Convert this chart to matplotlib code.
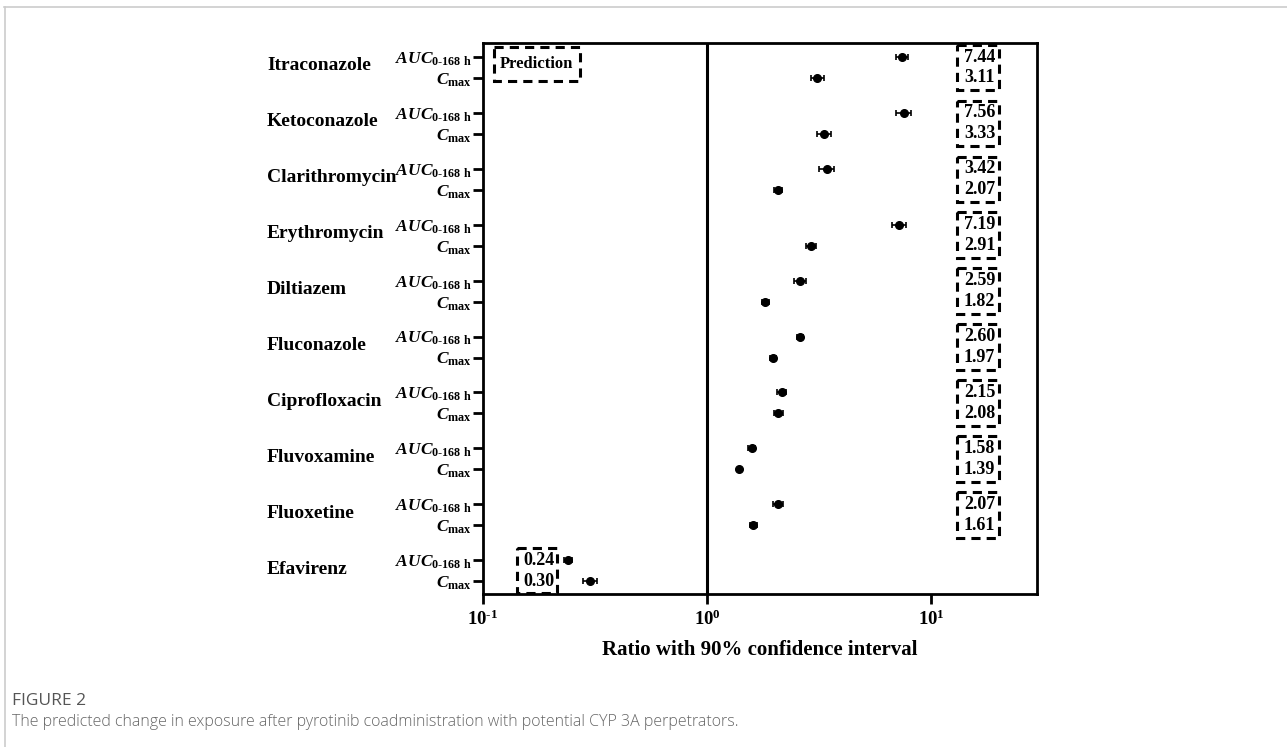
import numpy as np
import matplotlib
matplotlib.use('Agg')
import matplotlib.pyplot as plt
from matplotlib.patches import Rectangle
from matplotlib.lines import Line2D
import matplotlib.transforms as mtransforms

plt.rcParams['font.family'] = ['Liberation Serif', 'DejaVu Serif']
plt.rcParams['mathtext.fontset'] = 'custom'
plt.rcParams['mathtext.rm'] = 'Liberation Serif:bold'
plt.rcParams['mathtext.it'] = 'Liberation Serif:italic:bold'
plt.rcParams['mathtext.bf'] = 'Liberation Serif:bold'

# data
drugs = ['Itraconazole', 'Ketoconazole', 'Clarithromycin', 'Erythromycin', 'Diltiazem',
         'Fluconazole', 'Ciprofloxacin', 'Fluvoxamine', 'Fluoxetine', 'Efavirenz']
auc = [7.44, 7.56, 3.42, 7.19, 2.59, 2.60, 2.15, 1.58, 2.07, 0.24]
auc_lo = [7.00, 7.00, 3.16, 6.69, 2.44, 2.52, 2.05, 1.52, 1.96, 0.231]
auc_hi = [7.92, 8.16, 3.70, 7.73, 2.75, 2.68, 2.25, 1.64, 2.19, 0.250]
cmax = [3.11, 3.33, 2.07, 2.91, 1.82, 1.97, 2.08, 1.39, 1.61, 0.30]
cmax_lo = [2.92, 3.11, 1.98, 2.76, 1.75, 1.90, 1.98, 1.38, 1.55, 0.279]
cmax_hi = [3.31, 3.57, 2.16, 3.07, 1.89, 2.04, 2.19, 1.41, 1.67, 0.323]
auc_txt = ['7.44', '7.56', '3.42', '7.19', '2.59', '2.60', '2.15', '1.58', '2.07', '0.24']
cmax_txt = ['3.11', '3.33', '2.07', '2.91', '1.82', '1.97', '2.08', '1.39', '1.61', '0.30']

n = len(drugs)
gap = 0.375  # AUC row -> Cmax row
y_auc = np.arange(n)
y_cmax = y_auc + gap

fig = plt.figure(figsize=(12.87, 7.47), dpi=100)
ax = fig.add_axes([0.3753, 0.2048, 0.4305, 0.7376])

auc = np.array(auc); cmax = np.array(cmax)
ax.errorbar(auc, y_auc, xerr=[auc - np.array(auc_lo), np.array(auc_hi) - auc],
            fmt='o', color='black', ms=5.5, elinewidth=1.2, capsize=2.5, capthick=1.2)
ax.errorbar(cmax, y_cmax, xerr=[cmax - np.array(cmax_lo), np.array(cmax_hi) - cmax],
            fmt='o', color='black', ms=5.5, elinewidth=1.2, capsize=2.5, capthick=1.2)
ax.axvline(1, color='black', lw=2.2)

ax.set_xscale('log')
ax.set_xlim(0.1, 29.7)
ax.set_ylim(n - 1 + gap + 0.23, -0.25)
ax.set_xticks([0.1, 1, 10])
ax.set_xticklabels([r'$\mathbf{10^{\text{-1}}}$', r'$\mathbf{10^{0}}$', r'$\mathbf{10^{1}}$'],
                   fontsize=13.5)
ax.xaxis.set_minor_locator(matplotlib.ticker.NullLocator())
yt = np.concatenate([y_auc, y_cmax])
ylab = [r'$\mathit{AUC}_{\text{0-168 h}}$'] * n + [r'$\mathit{C}_{\mathrm{max}}$'] * n
ax.set_yticks(yt)
ax.set_yticklabels(ylab, fontsize=12.5)
ax.tick_params(axis='both', width=2, length=7, pad=1)
ax.tick_params(axis='x', pad=4)
for s in ax.spines.values():
    s.set_linewidth(2)

ax.set_xlabel('Ratio with 90% confidence interval', fontsize=15, fontweight='bold', labelpad=8)

trans = mtransforms.blended_transform_factory(ax.transAxes, ax.transData)
for i, d in enumerate(drugs):
    ax.text(-0.39, i + 0.16, d, transform=trans, ha='left', va='center',
            fontsize=14, fontweight='bold')

# dashed value boxes
dash = (0, (3, 2))
for i in range(n - 1):
    ax.add_patch(Rectangle((13.1, i - 0.22), 20.1 - 13.1, gap + 0.44, fill=False,
                           ec='black', lw=2.2, ls=dash))
    ax.text(14.0, y_auc[i], auc_txt[i], ha='left', va='center', fontsize=13, fontweight='bold')
    ax.text(14.0, y_cmax[i], cmax_txt[i], ha='left', va='center', fontsize=13, fontweight='bold')
i = n - 1
ax.add_patch(Rectangle((0.142, i - 0.22), 0.214 - 0.142, gap + 0.44, fill=False,
                       ec='black', lw=2.2, ls=dash))
ax.text(0.151, y_auc[i], auc_txt[i], ha='left', va='center', fontsize=13, fontweight='bold')
ax.text(0.151, y_cmax[i], cmax_txt[i], ha='left', va='center', fontsize=13, fontweight='bold')

ax.add_patch(Rectangle((0.112, -0.18), 0.271 - 0.112, 0.61, fill=False,
                       ec='black', lw=2.2, ls=dash))
ax.text(0.119, 0.12, 'Prediction', ha='left', va='center', fontsize=12, fontweight='bold')

# page frame and caption
fig.add_artist(Line2D([0.003, 1], [0.991, 0.991], color='#cccccc', lw=1.2))
fig.add_artist(Line2D([0.0035, 0.0035], [0, 0.991], color='#cccccc', lw=1.2))
fig.text(0.0095, 0.061, 'FIGURE 2', fontsize=12.5, color='#555555', family='Open Sans',
         va='center')
fig.text(0.0095, 0.033, 'The predicted change in exposure after pyrotinib coadministration '
         'with potential CYP 3A perpetrators.', fontsize=11.5, color='#666666',
         family='Open Sans', fontweight='light', va='center')

fig.savefig('out.png', dpi=100)
